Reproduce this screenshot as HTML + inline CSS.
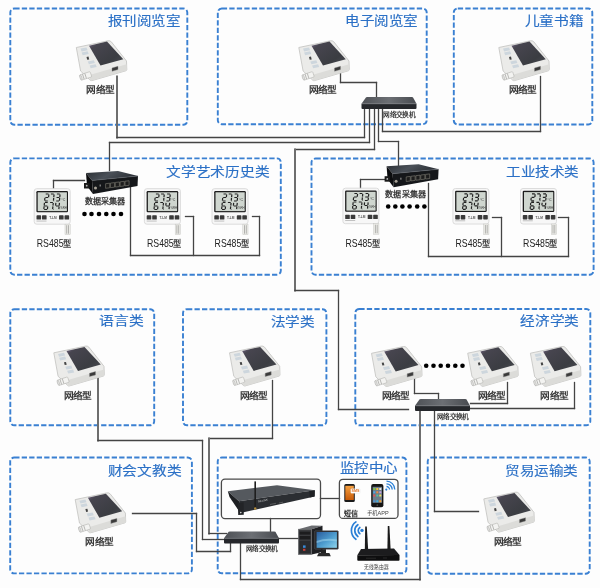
<!DOCTYPE html>
<html lang="zh-CN"><head><meta charset="utf-8"><style>
html,body{margin:0;padding:0;background:#fff;}
body{width:600px;height:588px;overflow:hidden;font-family:"Liberation Sans",sans-serif;}
svg{display:block;will-change:transform;filter:blur(0.25px)}
</style></head><body>
<svg width="600" height="588" viewBox="0 0 600 588">
<rect width="600" height="588" fill="#fdfdfd"/>

<defs>
 <linearGradient id="scr" x1="0" y1="0" x2="1" y2="1">
  <stop offset="0" stop-color="#7a6a8c"/><stop offset="0.18" stop-color="#47454f"/><stop offset="0.7" stop-color="#3b3d42"/><stop offset="1" stop-color="#4a4c52"/>
 </linearGradient>
 <linearGradient id="swtop" x1="0" y1="0" x2="1" y2="0">
  <stop offset="0" stop-color="#4e5156"/><stop offset="0.5" stop-color="#6c6f74"/><stop offset="1" stop-color="#484b50"/>
 </linearGradient>
 <linearGradient id="mon" x1="0" y1="0" x2="1" y2="1">
  <stop offset="0" stop-color="#2a5c9c"/><stop offset="0.55" stop-color="#4f9fd0"/><stop offset="1" stop-color="#8fd4ec"/>
 </linearGradient>
 <linearGradient id="orange" x1="0" y1="0" x2="0" y2="1">
  <stop offset="0" stop-color="#f6a040"/><stop offset="1" stop-color="#c85a08"/>
 </linearGradient>
 <linearGradient id="coltop" x1="0" y1="0" x2="1" y2="0.3">
  <stop offset="0" stop-color="#2a2e33"/><stop offset="0.5" stop-color="#4a5058"/><stop offset="1" stop-color="#2c3036"/>
 </linearGradient>
 <g id="net">
  <path d="M0.3,7.5 L32,0.8 Q34,0.4 35.3,1.8 L50.5,21 L50.8,29.5 Q50.8,30.5 49.8,30.8 L16,40.6 Q14.6,41 13.8,39.8 L4.6,31 Z" fill="#ebebe9" stroke="#c2c2bf" stroke-width="0.8"/>
  <path d="M14.5,34.8 L50.6,24.2 L50.8,29.5 Q50.8,30.5 49.8,30.8 L16,40.6 Q14.6,41 13.8,39.8 Z" fill="#dcdcd9"/>
  <path d="M13,5.7 L31,1.6 L47.3,19.2 L24.5,25.6 Z" fill="url(#scr)"/>
  <path d="M4.5,8.6 L10.5,7.4 L11.6,10.2 L5.6,11.4 Z" fill="#cdd6dd"/>
  <path d="M5.6,12.4 L11.6,11.2 L12.7,14 L6.7,15.2 Z" fill="#cdd6dd"/>
  <path d="M10.5,17 L12.5,16.6 L13.2,19.4 L11.2,19.8 Z" fill="#444"/>
  <path d="M11.8,21.5 L17.8,20.3 L18.9,23.1 L12.9,24.3 Z" fill="#cdd6dd"/>
  <path d="M13.6,25.5 L19.6,24.3 L20.7,27.1 L14.7,28.3 Z" fill="#cdd6dd"/>
  <path d="M36,28 L42,26.3 L42,29.6 L36,31.3 Z" fill="#3a3a3a" stroke="#888" stroke-width="0.4"/>
  <g transform="rotate(-18 10 35.8)">
   <rect x="4.2" y="33" width="11" height="5.6" rx="1" fill="#f3f3f1" stroke="#adadaa" stroke-width="0.5"/>
   <path d="M7.2,33.2 V38.4 M9.6,33.2 V38.4" stroke="#9a9a97" stroke-width="0.6"/>
   <ellipse cx="4.6" cy="35.8" rx="1" ry="2.8" fill="#e0e0de" stroke="#a5a5a2" stroke-width="0.4"/>
  </g>
 </g>
 <g id="rs">
  <rect x="0" y="0" width="36" height="35.5" rx="2.5" fill="#f7f7f7" stroke="#d8d8d8" stroke-width="0.9"/>
  <rect x="2.2" y="2.3" width="31.6" height="21.2" rx="1.2" fill="#1c1c1c"/>
  <rect x="3.5" y="3.6" width="29.2" height="18.8" fill="#cfd6cf"/>
  <path d="M11.50,5.30 L14.30,5.30 M14.66,5.70 L14.39,8.40 M11.15,8.80 L13.95,8.80 M10.71,9.20 L10.44,11.90 M10.80,12.30 L13.60,12.30 M16.70,5.30 L19.50,5.30 M19.86,5.70 L19.59,8.40 M19.51,9.20 L19.24,11.90 M22.70,5.30 L25.50,5.30 M25.86,5.70 L25.59,8.40 M22.35,8.80 L25.15,8.80 M25.51,9.20 L25.24,11.90 M22.00,12.30 L24.80,12.30 M10.70,13.80 L13.50,13.80 M10.26,14.20 L9.99,16.90 M10.35,17.30 L13.15,17.30 M9.91,17.70 L9.64,20.40 M10.00,20.80 L12.80,20.80 M13.51,17.70 L13.24,20.40 M15.90,13.80 L18.70,13.80 M19.06,14.20 L18.79,16.90 M18.71,17.70 L18.44,20.40 M21.66,14.20 L21.39,16.90 M21.75,17.30 L24.55,17.30 M25.26,14.20 L24.99,16.90 M24.91,17.70 L24.64,20.40 " stroke="#222" stroke-width="1.2" fill="none"/>
  <circle cx="19.6" cy="12.2" r="0.45" fill="#2c2c2c"/>
  <circle cx="19.2" cy="20.7" r="0.45" fill="#2c2c2c"/>
  <text x="27" y="12" font-family="Liberation Sans" font-size="3.6" fill="#333">°C</text>
  <text x="26" y="20" font-family="Liberation Sans" font-size="2.8" fill="#333">%RH</text>
  <rect x="2.3" y="26.6" width="4.6" height="4.3" rx="0.7" fill="#3a3a3a"/>
  <rect x="7.8" y="26.6" width="4.6" height="4.3" rx="0.7" fill="#3a3a3a"/>
  <rect x="24.8" y="26.6" width="4.6" height="4.3" rx="0.7" fill="#3a3a3a"/>
  <rect x="30.3" y="26.6" width="4.6" height="4.3" rx="0.7" fill="#3a3a3a"/>
  <text x="15" y="30.2" font-family="Liberation Sans" font-size="3.2" font-weight="bold" fill="#555">T-LM</text>
  <rect x="2.3" y="32" width="10" height="0.7" fill="#aaa"/>
  <rect x="30.8" y="35.5" width="5.2" height="10.5" fill="#eeeeea" stroke="#c8c8c4" stroke-width="0.5"/>
  <path d="M32.5,36.5 V45 M34.3,36.5 V45" stroke="#8a8a86" stroke-width="0.6"/>
 </g>
 <g id="col">
  <path d="M2,2 L34,0 L54,5 L8,9.5 Z" fill="url(#coltop)"/>
  <path d="M8,9.5 L54,5 L53.5,15 L9,23 Z" fill="#15171a"/>
  <path d="M2,2 L8,9.5 L9,23 L3,15 Z" fill="#0b0c0e"/>
  <path d="M8,9.5 L54,5" stroke="#6a7078" stroke-width="0.5"/>
  <rect x="0" y="12" width="5.5" height="5.5" fill="#1a1a1a"/>
  <circle cx="2.7" cy="14.7" r="0.9" fill="#bbb"/>
  <circle cx="11.5" cy="17" r="1.5" fill="#a9a398"/>
  <rect x="15.5" y="13.5" width="1.5" height="2" fill="#777"/>
  <g stroke="#8c897f" stroke-width="0.55" fill="#1c1c1c">
   <path d="M21.60,12.70 L25.70,12.20 L25.70,16.80 L21.60,17.30 Z"/>
   <path d="M26.45,12.08 L30.55,11.58 L30.55,16.18 L26.45,16.68 Z"/>
   <path d="M31.30,11.46 L35.40,10.96 L35.40,15.56 L31.30,16.06 Z"/>
   <path d="M36.15,10.84 L40.25,10.34 L40.25,14.94 L36.15,15.44 Z"/>
   <path d="M41.00,10.22 L45.10,9.72 L45.10,14.32 L41.00,14.82 Z"/>
  </g>
 </g>
 <g id="sw">
  <path d="M4.6,0.3 Q5,0 6,0 L50,0 Q51,0 51.4,0.3 L55,6.8 L0,6.8 Z" fill="url(#swtop)"/>
  <path d="M0,6.8 L55,6.8 L55,11 Q55,12 54,12 L1,12 Q0,12 0,11 Z" fill="#25272b"/>
  <path d="M0.3,6.8 L54.7,6.8" stroke="#85888d" stroke-width="0.5"/>
 </g>
</defs>

<rect x="10.3" y="8.5" width="177.0" height="116.2" rx="4" fill="none" stroke="#3a80d2" stroke-width="1.9" stroke-dasharray="5.3 2.2"/>
<rect x="217.8" y="8.5" width="208.89999999999998" height="115.7" rx="4" fill="none" stroke="#3a80d2" stroke-width="1.9" stroke-dasharray="5.3 2.2"/>
<rect x="453.8" y="8.5" width="138.49999999999994" height="116.0" rx="4" fill="none" stroke="#3a80d2" stroke-width="1.9" stroke-dasharray="5.3 2.2"/>
<rect x="10.3" y="158.4" width="270.5" height="116.29999999999998" rx="4" fill="none" stroke="#3a80d2" stroke-width="1.9" stroke-dasharray="5.3 2.2"/>
<rect x="311.5" y="158.5" width="282.1" height="116.19999999999999" rx="4" fill="none" stroke="#3a80d2" stroke-width="1.9" stroke-dasharray="5.3 2.2"/>
<rect x="10.3" y="309.2" width="143.89999999999998" height="116.10000000000002" rx="4" fill="none" stroke="#3a80d2" stroke-width="1.9" stroke-dasharray="5.3 2.2"/>
<rect x="183" y="309.2" width="143.39999999999998" height="116.10000000000002" rx="4" fill="none" stroke="#3a80d2" stroke-width="1.9" stroke-dasharray="5.3 2.2"/>
<rect x="355.3" y="309" width="234.99999999999994" height="116.30000000000001" rx="4" fill="none" stroke="#3a80d2" stroke-width="1.9" stroke-dasharray="5.3 2.2"/>
<rect x="10.2" y="457.5" width="181.70000000000002" height="115.89999999999998" rx="4" fill="none" stroke="#3a80d2" stroke-width="1.9" stroke-dasharray="5.3 2.2"/>
<rect x="217.7" y="457.5" width="188.7" height="115.79999999999995" rx="4" fill="none" stroke="#3a80d2" stroke-width="1.9" stroke-dasharray="5.3 2.2"/>
<rect x="427.7" y="457.5" width="162.00000000000006" height="116.20000000000005" rx="4" fill="none" stroke="#3a80d2" stroke-width="1.9" stroke-dasharray="5.3 2.2"/>
<text x="107.7" y="25.4" font-family="Liberation Sans" font-size="13" font-weight="normal" stroke="#2b70c6" stroke-width="0.15" textLength="72.3" lengthAdjust="spacingAndGlyphs" fill="#2b70c6">报刊阅览室</text>
<text x="345.3" y="25.2" font-family="Liberation Sans" font-size="13" font-weight="normal" stroke="#2b70c6" stroke-width="0.15" textLength="72.7" lengthAdjust="spacingAndGlyphs" fill="#2b70c6">电子阅览室</text>
<text x="524.5" y="25.4" font-family="Liberation Sans" font-size="13" font-weight="normal" stroke="#2b70c6" stroke-width="0.15" textLength="58.7" lengthAdjust="spacingAndGlyphs" fill="#2b70c6">儿童书籍</text>
<text x="166.4" y="176.2" font-family="Liberation Sans" font-size="13" font-weight="normal" stroke="#2b70c6" stroke-width="0.15" textLength="102.9" lengthAdjust="spacingAndGlyphs" fill="#2b70c6">文学艺术历史类</text>
<text x="506.2" y="176.0" font-family="Liberation Sans" font-size="13" font-weight="normal" stroke="#2b70c6" stroke-width="0.15" textLength="72.6" lengthAdjust="spacingAndGlyphs" fill="#2b70c6">工业技术类</text>
<text x="99.2" y="325.4" font-family="Liberation Sans" font-size="13" font-weight="normal" stroke="#2b70c6" stroke-width="0.15" textLength="44.3" lengthAdjust="spacingAndGlyphs" fill="#2b70c6">语言类</text>
<text x="270.8" y="325.9" font-family="Liberation Sans" font-size="13" font-weight="normal" stroke="#2b70c6" stroke-width="0.15" textLength="43.7" lengthAdjust="spacingAndGlyphs" fill="#2b70c6">法学类</text>
<text x="520.3" y="325.4" font-family="Liberation Sans" font-size="13" font-weight="normal" stroke="#2b70c6" stroke-width="0.15" textLength="58.5" lengthAdjust="spacingAndGlyphs" fill="#2b70c6">经济学类</text>
<text x="107.8" y="475.4" font-family="Liberation Sans" font-size="13" font-weight="normal" stroke="#2b70c6" stroke-width="0.15" textLength="73.5" lengthAdjust="spacingAndGlyphs" fill="#2b70c6">财会文教类</text>
<text x="339.5" y="472.2" font-family="Liberation Sans" font-size="13" font-weight="normal" stroke="#2b70c6" stroke-width="0.15" textLength="58.0" lengthAdjust="spacingAndGlyphs" fill="#2b70c6">监控中心</text>
<text x="505.3" y="475.4" font-family="Liberation Sans" font-size="13" font-weight="normal" stroke="#2b70c6" stroke-width="0.15" textLength="72.7" lengthAdjust="spacingAndGlyphs" fill="#2b70c6">贸易运输类</text>
<line x1="117" y1="76.5" x2="117" y2="137.5" stroke="#6e6e6e" stroke-width="2" stroke-linecap="square"/>
<line x1="117" y1="137.5" x2="364.5" y2="137.5" stroke="#444444" stroke-width="1.3" stroke-linecap="square"/>
<line x1="364.5" y1="137.5" x2="364.5" y2="108.5" stroke="#444444" stroke-width="1.3" stroke-linecap="square"/>
<line x1="109.5" y1="170.5" x2="109.5" y2="142.5" stroke="#444444" stroke-width="1.3" stroke-linecap="square"/>
<line x1="109.5" y1="142.5" x2="369.5" y2="142.5" stroke="#444444" stroke-width="1.3" stroke-linecap="square"/>
<line x1="369.5" y1="142.5" x2="369.5" y2="108.5" stroke="#444444" stroke-width="1.3" stroke-linecap="square"/>
<line x1="374.5" y1="108.5" x2="374.5" y2="149.5" stroke="#444444" stroke-width="1.3" stroke-linecap="square"/>
<line x1="374.5" y1="149.5" x2="295" y2="149.5" stroke="#444444" stroke-width="1.3" stroke-linecap="square"/>
<line x1="295" y1="149.5" x2="295" y2="290.5" stroke="#6e6e6e" stroke-width="2" stroke-linecap="square"/>
<line x1="295" y1="290.5" x2="338.5" y2="290.5" stroke="#444444" stroke-width="1.3" stroke-linecap="square"/>
<line x1="338.5" y1="290.5" x2="338.5" y2="409.5" stroke="#444444" stroke-width="1.3" stroke-linecap="square"/>
<line x1="338.5" y1="409.5" x2="408.5" y2="409.5" stroke="#444444" stroke-width="1.3" stroke-linecap="square"/>
<line x1="378.5" y1="108.5" x2="378.5" y2="141.5" stroke="#444444" stroke-width="1.3" stroke-linecap="square"/>
<line x1="378.5" y1="141.5" x2="398.5" y2="141.5" stroke="#444444" stroke-width="1.3" stroke-linecap="square"/>
<line x1="398.5" y1="141.5" x2="398.5" y2="166.5" stroke="#444444" stroke-width="1.3" stroke-linecap="square"/>
<line x1="382.5" y1="108.5" x2="382.5" y2="131.5" stroke="#444444" stroke-width="1.3" stroke-linecap="square"/>
<line x1="382.5" y1="131.5" x2="540.5" y2="131.5" stroke="#444444" stroke-width="1.3" stroke-linecap="square"/>
<line x1="540.5" y1="131.5" x2="540.5" y2="76.5" stroke="#444444" stroke-width="1.3" stroke-linecap="square"/>
<line x1="340.5" y1="70.5" x2="340.5" y2="82.5" stroke="#444444" stroke-width="1.3" stroke-linecap="square"/>
<line x1="340.5" y1="82.5" x2="376.5" y2="82.5" stroke="#444444" stroke-width="1.3" stroke-linecap="square"/>
<line x1="376.5" y1="82.5" x2="376.5" y2="96.5" stroke="#444444" stroke-width="1.3" stroke-linecap="square"/>
<line x1="53.5" y1="188.5" x2="53.5" y2="180.5" stroke="#444444" stroke-width="1.3" stroke-linecap="square"/>
<line x1="53.5" y1="180.5" x2="84.5" y2="180.5" stroke="#444444" stroke-width="1.3" stroke-linecap="square"/>
<line x1="130.5" y1="186.5" x2="130.5" y2="255.5" stroke="#444444" stroke-width="1.3" stroke-linecap="square"/>
<line x1="130.5" y1="255.5" x2="259.5" y2="255.5" stroke="#444444" stroke-width="1.3" stroke-linecap="square"/>
<line x1="259.5" y1="255.5" x2="259.5" y2="216.5" stroke="#444444" stroke-width="1.3" stroke-linecap="square"/>
<line x1="259.5" y1="216.5" x2="252.5" y2="216.5" stroke="#444444" stroke-width="1.3" stroke-linecap="square"/>
<line x1="185.5" y1="216.5" x2="193.5" y2="216.5" stroke="#444444" stroke-width="1.3" stroke-linecap="square"/>
<line x1="193.5" y1="216.5" x2="193.5" y2="255.5" stroke="#444444" stroke-width="1.3" stroke-linecap="square"/>
<line x1="360.5" y1="188.5" x2="360.5" y2="179.5" stroke="#444444" stroke-width="1.3" stroke-linecap="square"/>
<line x1="360.5" y1="179.5" x2="385.5" y2="179.5" stroke="#444444" stroke-width="1.3" stroke-linecap="square"/>
<line x1="428.5" y1="183.5" x2="428.5" y2="256.5" stroke="#444444" stroke-width="1.3" stroke-linecap="square"/>
<line x1="428.5" y1="256.5" x2="568.5" y2="256.5" stroke="#444444" stroke-width="1.3" stroke-linecap="square"/>
<line x1="568.5" y1="256.5" x2="568.5" y2="217.5" stroke="#444444" stroke-width="1.3" stroke-linecap="square"/>
<line x1="568.5" y1="217.5" x2="558.5" y2="217.5" stroke="#444444" stroke-width="1.3" stroke-linecap="square"/>
<line x1="492.5" y1="217.5" x2="501.5" y2="217.5" stroke="#444444" stroke-width="1.3" stroke-linecap="square"/>
<line x1="501.5" y1="217.5" x2="501.5" y2="256.5" stroke="#444444" stroke-width="1.3" stroke-linecap="square"/>
<line x1="98" y1="378.5" x2="98" y2="440.5" stroke="#6e6e6e" stroke-width="2" stroke-linecap="square"/>
<line x1="98" y1="440.5" x2="202.5" y2="440.5" stroke="#444444" stroke-width="1.3" stroke-linecap="square"/>
<line x1="202.5" y1="440.5" x2="202.5" y2="539.5" stroke="#444444" stroke-width="1.3" stroke-linecap="square"/>
<line x1="202.5" y1="539.5" x2="224.5" y2="539.5" stroke="#444444" stroke-width="1.3" stroke-linecap="square"/>
<line x1="272.5" y1="380.5" x2="272.5" y2="438.5" stroke="#444444" stroke-width="1.3" stroke-linecap="square"/>
<line x1="272.5" y1="438.5" x2="209" y2="438.5" stroke="#444444" stroke-width="1.3" stroke-linecap="square"/>
<line x1="209" y1="438.5" x2="209" y2="533.5" stroke="#6e6e6e" stroke-width="2" stroke-linecap="square"/>
<line x1="209" y1="533.5" x2="226.5" y2="533.5" stroke="#444444" stroke-width="1.3" stroke-linecap="square"/>
<line x1="414.5" y1="378.5" x2="414.5" y2="393.5" stroke="#444444" stroke-width="1.3" stroke-linecap="square"/>
<line x1="414.5" y1="393.5" x2="438.5" y2="393.5" stroke="#444444" stroke-width="1.3" stroke-linecap="square"/>
<line x1="438.5" y1="393.5" x2="438.5" y2="399.5" stroke="#444444" stroke-width="1.3" stroke-linecap="square"/>
<line x1="507.5" y1="382.5" x2="507.5" y2="403.5" stroke="#444444" stroke-width="1.3" stroke-linecap="square"/>
<line x1="507.5" y1="403.5" x2="470.5" y2="403.5" stroke="#444444" stroke-width="1.3" stroke-linecap="square"/>
<line x1="574.5" y1="382.5" x2="574.5" y2="408.5" stroke="#444444" stroke-width="1.3" stroke-linecap="square"/>
<line x1="574.5" y1="408.5" x2="470.5" y2="408.5" stroke="#444444" stroke-width="1.3" stroke-linecap="square"/>
<line x1="420" y1="410.5" x2="420" y2="579.5" stroke="#6e6e6e" stroke-width="2" stroke-linecap="square"/>
<line x1="420" y1="579.5" x2="240.5" y2="579.5" stroke="#444444" stroke-width="1.3" stroke-linecap="square"/>
<line x1="240.5" y1="579.5" x2="240.5" y2="543.5" stroke="#444444" stroke-width="1.3" stroke-linecap="square"/>
<line x1="434.5" y1="410.5" x2="434.5" y2="511.5" stroke="#444444" stroke-width="1.3" stroke-linecap="square"/>
<line x1="434.5" y1="511.5" x2="478.5" y2="511.5" stroke="#444444" stroke-width="1.3" stroke-linecap="square"/>
<line x1="132.5" y1="513.5" x2="196.5" y2="513.5" stroke="#444444" stroke-width="1.3" stroke-linecap="square"/>
<line x1="196.5" y1="513.5" x2="196.5" y2="551.5" stroke="#444444" stroke-width="1.3" stroke-linecap="square"/>
<line x1="196.5" y1="551.5" x2="230.5" y2="551.5" stroke="#444444" stroke-width="1.3" stroke-linecap="square"/>
<line x1="230.5" y1="551.5" x2="230.5" y2="543.5" stroke="#444444" stroke-width="1.3" stroke-linecap="square"/>
<line x1="270.5" y1="518.5" x2="270.5" y2="531.5" stroke="#444444" stroke-width="1.3" stroke-linecap="square"/>
<line x1="278.5" y1="538.5" x2="298.5" y2="538.5" stroke="#444444" stroke-width="1.3" stroke-linecap="square"/>
<line x1="320.5" y1="498.5" x2="339.5" y2="498.5" stroke="#444444" stroke-width="1.3" stroke-linecap="square"/>
<use href="#net" x="76" y="40"/>
<text x="86.3" y="93.2" font-family="Liberation Sans" font-size="9.3" font-weight="bold" textLength="28.0" lengthAdjust="spacingAndGlyphs" fill="#3a3a3a">网络型</text>
<use href="#net" x="298.5" y="40"/>
<text x="308.8" y="93.2" font-family="Liberation Sans" font-size="9.3" font-weight="bold" textLength="28.0" lengthAdjust="spacingAndGlyphs" fill="#3a3a3a">网络型</text>
<use href="#net" x="498.5" y="40"/>
<text x="508.8" y="93.2" font-family="Liberation Sans" font-size="9.3" font-weight="bold" textLength="28.0" lengthAdjust="spacingAndGlyphs" fill="#3a3a3a">网络型</text>
<use href="#net" x="53.5" y="345.3"/>
<text x="63.8" y="398.5" font-family="Liberation Sans" font-size="9.3" font-weight="bold" textLength="28.0" lengthAdjust="spacingAndGlyphs" fill="#3a3a3a">网络型</text>
<use href="#net" x="229.2" y="345.3"/>
<text x="239.5" y="398.5" font-family="Liberation Sans" font-size="9.3" font-weight="bold" textLength="28.0" lengthAdjust="spacingAndGlyphs" fill="#3a3a3a">网络型</text>
<use href="#net" x="371.2" y="345.8"/>
<text x="381.5" y="399.0" font-family="Liberation Sans" font-size="9.3" font-weight="bold" textLength="28.0" lengthAdjust="spacingAndGlyphs" fill="#3a3a3a">网络型</text>
<use href="#net" x="467.4" y="345.7"/>
<text x="477.7" y="398.9" font-family="Liberation Sans" font-size="9.3" font-weight="bold" textLength="28.0" lengthAdjust="spacingAndGlyphs" fill="#3a3a3a">网络型</text>
<use href="#net" x="530.1" y="345.7"/>
<text x="540.4" y="398.9" font-family="Liberation Sans" font-size="9.3" font-weight="bold" textLength="28.0" lengthAdjust="spacingAndGlyphs" fill="#3a3a3a">网络型</text>
<use href="#net" x="74.9" y="492.1"/>
<text x="85.2" y="545.3" font-family="Liberation Sans" font-size="9.3" font-weight="bold" textLength="28.0" lengthAdjust="spacingAndGlyphs" fill="#3a3a3a">网络型</text>
<use href="#net" x="483.5" y="491.4"/>
<text x="493.8" y="544.6" font-family="Liberation Sans" font-size="9.3" font-weight="bold" textLength="28.0" lengthAdjust="spacingAndGlyphs" fill="#3a3a3a">网络型</text>
<use href="#rs" x="34.2" y="188.7"/>
<text transform="translate(36.8,246.6) scale(0.85,1)" font-family="Liberation Sans" font-size="10.3" fill="#222">RS485</text>
<text x="62.8" y="246.6" font-family="Liberation Sans" font-size="8.6" font-weight="bold" textLength="8.6" lengthAdjust="spacingAndGlyphs" fill="#444">型</text>
<use href="#rs" x="144.4" y="188.7"/>
<text transform="translate(147.0,246.6) scale(0.85,1)" font-family="Liberation Sans" font-size="10.3" fill="#222">RS485</text>
<text x="173.0" y="246.6" font-family="Liberation Sans" font-size="8.6" font-weight="bold" textLength="8.6" lengthAdjust="spacingAndGlyphs" fill="#444">型</text>
<use href="#rs" x="212" y="188.7"/>
<text transform="translate(214.6,246.6) scale(0.85,1)" font-family="Liberation Sans" font-size="10.3" fill="#222">RS485</text>
<text x="240.6" y="246.6" font-family="Liberation Sans" font-size="8.6" font-weight="bold" textLength="8.6" lengthAdjust="spacingAndGlyphs" fill="#444">型</text>
<use href="#rs" x="342.9" y="188.2"/>
<text transform="translate(345.5,246.6) scale(0.85,1)" font-family="Liberation Sans" font-size="10.3" fill="#222">RS485</text>
<text x="371.5" y="246.6" font-family="Liberation Sans" font-size="8.6" font-weight="bold" textLength="8.6" lengthAdjust="spacingAndGlyphs" fill="#444">型</text>
<use href="#rs" x="452.9" y="188.5"/>
<text transform="translate(455.5,246.6) scale(0.85,1)" font-family="Liberation Sans" font-size="10.3" fill="#222">RS485</text>
<text x="481.5" y="246.6" font-family="Liberation Sans" font-size="8.6" font-weight="bold" textLength="8.6" lengthAdjust="spacingAndGlyphs" fill="#444">型</text>
<use href="#rs" x="520.5" y="188.5"/>
<text transform="translate(523.1,246.6) scale(0.85,1)" font-family="Liberation Sans" font-size="10.3" fill="#222">RS485</text>
<text x="549.1" y="246.6" font-family="Liberation Sans" font-size="8.6" font-weight="bold" textLength="8.6" lengthAdjust="spacingAndGlyphs" fill="#444">型</text>
<use href="#col" x="84" y="171"/>
<text x="84.7" y="203.8" font-family="Liberation Sans" font-size="8" font-weight="bold" textLength="40.6" lengthAdjust="spacingAndGlyphs" fill="#3a3a3a">数据采集器</text>
<use href="#col" x="384.6" y="164.2"/>
<text x="385.3" y="197.0" font-family="Liberation Sans" font-size="8" font-weight="bold" textLength="40.6" lengthAdjust="spacingAndGlyphs" fill="#3a3a3a">数据采集器</text>
<circle cx="84.5" cy="214" r="2.3" fill="#000"/>
<circle cx="91.5" cy="214" r="2.3" fill="#000"/>
<circle cx="99" cy="214" r="2.3" fill="#000"/>
<circle cx="106.3" cy="214" r="2.3" fill="#000"/>
<circle cx="113.5" cy="214" r="2.3" fill="#000"/>
<circle cx="121" cy="214" r="2.3" fill="#000"/>
<circle cx="388.2" cy="206.5" r="2.3" fill="#000"/>
<circle cx="395.3" cy="206.5" r="2.3" fill="#000"/>
<circle cx="402.4" cy="206.5" r="2.3" fill="#000"/>
<circle cx="409.6" cy="206.5" r="2.3" fill="#000"/>
<circle cx="417.2" cy="206.5" r="2.3" fill="#000"/>
<circle cx="424.4" cy="206.5" r="2.3" fill="#000"/>
<circle cx="426.2" cy="365.8" r="2.3" fill="#000"/>
<circle cx="433.5" cy="365.8" r="2.3" fill="#000"/>
<circle cx="440.7" cy="365.8" r="2.3" fill="#000"/>
<circle cx="448.0" cy="365.8" r="2.3" fill="#000"/>
<circle cx="455.3" cy="365.8" r="2.3" fill="#000"/>
<circle cx="462.5" cy="365.8" r="2.3" fill="#000"/>
<use href="#sw" x="361.5" y="97"/>
<text x="383.3" y="116.5" font-family="Liberation Sans" font-size="6.3" font-weight="bold" textLength="31.8" lengthAdjust="spacingAndGlyphs" fill="#3a3a3a">网络交换机</text>
<use href="#sw" x="415" y="399"/>
<text x="436.8" y="418.5" font-family="Liberation Sans" font-size="6.3" font-weight="bold" textLength="31.8" lengthAdjust="spacingAndGlyphs" fill="#3a3a3a">网络交换机</text>
<use href="#sw" x="224" y="531.5"/>
<text x="245.8" y="551.0" font-family="Liberation Sans" font-size="6.3" font-weight="bold" textLength="31.8" lengthAdjust="spacingAndGlyphs" fill="#3a3a3a">网络交换机</text>
<rect x="221.4" y="479.2" width="99.1" height="39.4" rx="3.5" fill="none" stroke="#4a4a4a" stroke-width="1.3"/>
<rect x="339.4" y="479.3" width="58.6" height="39.1" rx="3.5" fill="none" stroke="#4a4a4a" stroke-width="1.3"/>
<path d="M227.8,491.3 L277,485.2 L314.8,490.3 L239,501.3 Z" fill="#55595e"/>
<path d="M239,501.3 L314.8,490.3 L314.6,496.6 L240.3,513 Z" fill="#2b2e32"/>
<path d="M227.8,491.3 L239,501.3 L240.3,513 L229.5,497 Z" fill="#1d1f22"/>
<path d="M237.8,503 L243.6,502.2 L243.8,514.8 L238.2,515 Z" fill="#222427"/>
<circle cx="240.8" cy="512.6" r="0.8" fill="#ddd"/>
<path d="M309.5,491 L314.8,490.3 L314.6,496.6 L309.7,497.6 Z" fill="#1f2124"/>
<rect x="254.4" y="481.4" width="1.6" height="27.5" fill="#1e1e1e"/>
<circle cx="255.2" cy="508.5" r="1.2" fill="#b08a3a"/>
<text x="258" y="502.6" font-family="Liberation Sans" font-size="2.6" fill="#ddd" transform="rotate(-12 258 502.6)">SR-LINK</text>
<path d="M270,504.5 L276,503.3 M279,503 L283,502.2" stroke="#777" stroke-width="0.6"/>
<rect x="344.3" y="484" width="10.5" height="18.1" rx="1.5" fill="#1a1a1a"/>
<rect x="345.3" y="485.8" width="8.5" height="14.2" fill="url(#orange)"/>
<rect x="350.8" y="488.7" width="9.3" height="4.6" rx="0.8" fill="#fff" stroke="#ddd" stroke-width="0.3"/>
<text x="351.6" y="492.4" font-family="Liberation Sans" font-size="3.6" font-weight="bold" fill="#e07020">SMS</text>
<text x="343.6" y="515.6" font-family="Liberation Sans" font-size="7" font-weight="bold" fill="#2a2a2a">短信</text>
<rect x="371.2" y="484" width="12.2" height="23.3" rx="2" fill="#151515"/>
<rect x="372.6" y="486.8" width="9.4" height="16" fill="#6f7e8c"/>
<g><rect x="373.3" y="488" width="2" height="2" rx="0.4" fill="#7ac943"/><rect x="376.3" y="488" width="2" height="2" rx="0.4" fill="#f7c23c"/><rect x="379.3" y="488" width="2" height="2" rx="0.4" fill="#e8e8e8"/><rect x="373.3" y="491.3" width="2" height="2" rx="0.4" fill="#4aa8e8"/><rect x="376.3" y="491.3" width="2" height="2" rx="0.4" fill="#f08a3c"/><rect x="379.3" y="491.3" width="2" height="2" rx="0.4" fill="#c8a0e0"/><rect x="373.3" y="494.6" width="2" height="2" rx="0.4" fill="#e85050"/><rect x="376.3" y="494.6" width="2" height="2" rx="0.4" fill="#50c0a0"/><rect x="379.3" y="494.6" width="2" height="2" rx="0.4" fill="#f0e060"/><rect x="373.3" y="500.2" width="2" height="2" rx="0.4" fill="#4a90d0"/><rect x="376.3" y="500.2" width="2" height="2" rx="0.4" fill="#40b0e0"/><rect x="379.3" y="500.2" width="2" height="2" rx="0.4" fill="#f0a030"/></g>
<circle cx="377.3" cy="505.2" r="0.9" fill="#444"/>
<text x="366.9" y="515.2" font-family="Liberation Sans" font-size="5.2" font-weight="normal" textLength="21.8" lengthAdjust="spacingAndGlyphs" fill="#444">手机APP</text>
<g fill="none" stroke="#2a7fd6" stroke-width="1.3"><path d="M386.5,486.5 A3,3 0 0 1 389.5,489.5"/><path d="M386.5,483.8 A5.7,5.7 0 0 1 392.2,489.5"/><path d="M386.5,481.2 A8.3,8.3 0 0 1 394.8,489.5"/></g><circle cx="386.3" cy="489.6" r="1.1" fill="#2a7fd6"/>
<path d="M298.3,529.2 L311.7,525.4 L322.5,525.8 L311.7,529.2 Z" fill="#6a6c70"/>
<path d="M311.7,529.2 L322.5,525.8 L322.5,552 L311.7,554.6 Z" fill="#1e1f22"/>
<rect x="298.3" y="529.2" width="13.4" height="25.4" fill="#3a3b3e" stroke="#6e7073" stroke-width="0.6"/>
<rect x="299.6" y="531.6" width="10.8" height="3" fill="#1c1c1e"/><rect x="299.6" y="536" width="10.8" height="3.4" fill="#1c1c1e"/>
<rect x="299.6" y="541" width="10.8" height="12" fill="#2a2b2e"/>
<rect x="303" y="545.4" width="2.6" height="2.4" fill="#3a8ad8"/><rect x="303" y="548.8" width="2.4" height="2" fill="#c8403a"/>
<rect x="314.6" y="530.8" width="23.7" height="18.4" rx="0.8" fill="#2a2b2e" stroke="#55575a" stroke-width="0.5"/>
<rect x="316.6" y="532" width="20.3" height="15.8" fill="url(#mon)"/>
<path d="M316.6,541 Q326,537.5 336.9,539.5 L336.9,541.5 Q326,539.5 316.6,543 Z" fill="#a8dcf0" opacity="0.5"/>
<rect x="321" y="549.2" width="5" height="3.8" fill="#222"/>
<path d="M317,556.3 L318.6,553 L329.4,553 L330.8,556.3 Z" fill="#2a2a2a"/>
<g fill="none" stroke="#2a7fd6" stroke-width="1.7" stroke-linecap="round"><path d="M359.82,527.49 A3.8,3.8 0 0 0 359.82,533.71"/><path d="M357.87,524.70 A7.2,7.2 0 0 0 357.87,536.50"/><path d="M355.92,521.92 A10.6,10.6 0 0 0 355.92,539.28"/></g><circle cx="362" cy="530.4" r="1.7" fill="#2a7fd6"/>
<path d="M365.2,526.4 L366.8,526.4 L368.2,550 L364.8,550 Z" fill="#1a1a1a"/>
<path d="M387.8,526 L389.4,526 L390.6,549 L387.4,549 Z" fill="#1a1a1a"/>
<path d="M361,548.9 L394,548.4 L399.5,555 L357.3,555.3 Z" fill="#1c1c1e"/>
<path d="M357.3,555.3 L399.5,555 L399.5,560 Q399.5,560.8 398.7,560.8 L358,560.8 Q357.3,560.8 357.3,560 Z" fill="#0e0e0f"/>
<path d="M366,558.2 L376,558.2 M383,558 L387,558" stroke="#444" stroke-width="0.5"/>
<text x="363.5" y="569.4" font-family="Liberation Sans" font-size="5.5" font-weight="normal" textLength="26.0" lengthAdjust="spacingAndGlyphs" fill="#444">无线路由器</text>
</svg>
</body></html>
